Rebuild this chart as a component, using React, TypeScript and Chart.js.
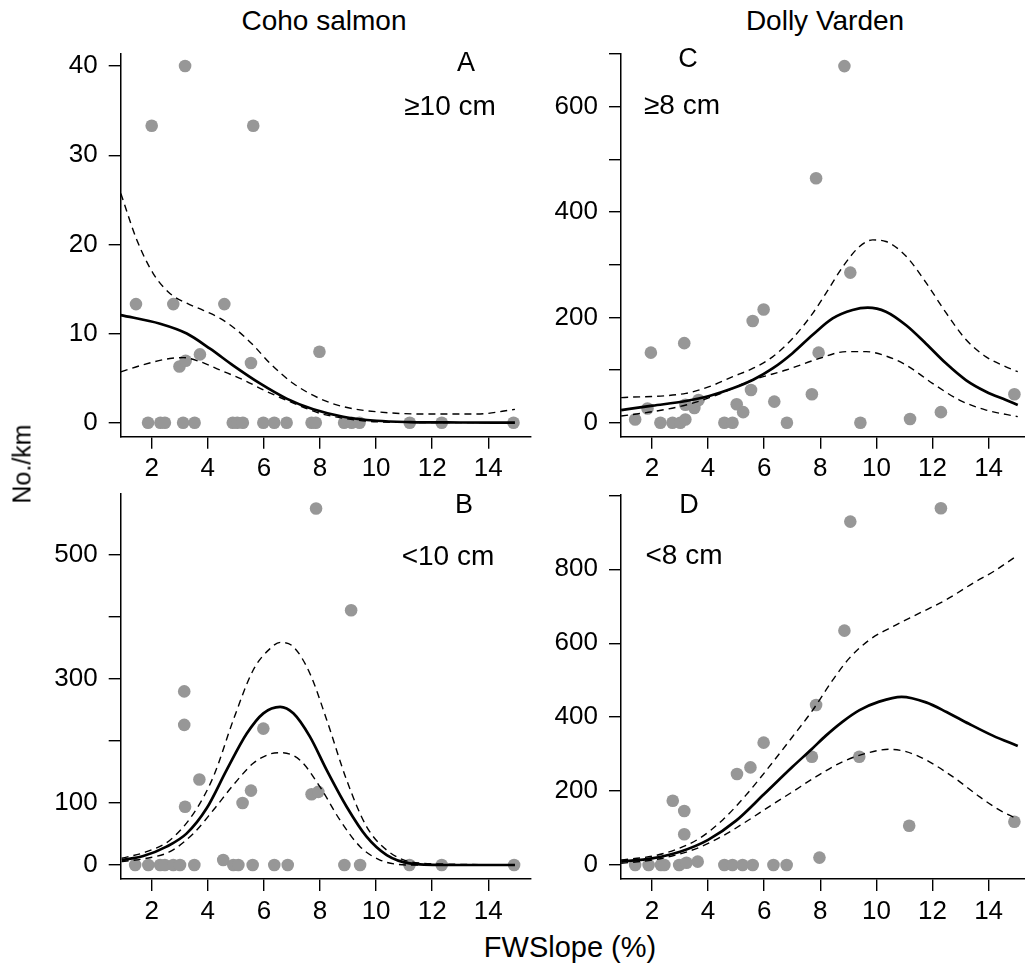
import React, { useEffect, useRef } from "react";
import { Chart, registerables } from "chart.js";

Chart.register(...registerables);

const FONT = "'Liberation Sans', Arial, Helvetica, sans-serif";

// ---------- shared axis ----------
const xTicks = [2, 4, 6, 8, 10, 12, 14];
const X_MIN = 0.895;
const X_MAX = 15.505;

// ---------- Panel A: Coho salmon >=10 cm ----------
const cohoLargeX = [1.44, 2.0, 3.19, 2.77, 2.99, 3.21, 3.72, 4.59, 5.62, 5.54, 7.98, 1.87, 2.31, 2.47, 3.12, 3.53, 4.89, 5.05, 5.25, 5.98, 6.37, 6.81, 7.7, 7.85, 8.86, 9.13, 9.41, 11.2, 12.34, 14.9];
const cohoLargeY = [13.3, 33.3, 40, 13.3, 6.3, 6.95, 7.66, 13.3, 33.3, 6.7, 7.96, 0, 0, 0, 0, 0, 0, 0, 0, 0, 0, 0, 0, 0, 0, 0, 0, 0, 0, 0];
const cohoLargeFitX = [0.9, 2.3, 3.25, 4.08, 4.91, 5.86, 6.81, 7.76, 8.83, 10.02, 11.21, 13.0, 14.95];
const cohoLargeFit = [12.07, 11.1, 10.0, 8.3, 6.4, 4.4, 2.7, 1.5, 0.67, 0.22, 0.07, 0.02, 0.0];
const cohoLargeUpX = [0.9, 1.47, 2.06, 2.65, 3.25, 3.84, 4.44, 5.03, 5.62, 6.22, 7.05, 8.0, 8.83, 10.0, 11.8, 13.6, 14.95];
const cohoLargeUp = [25.7, 20.5, 16.7, 14.5, 13.4, 12.6, 11.7, 10.4, 8.7, 6.65, 4.4, 2.7, 1.8, 1.23, 0.97, 0.97, 1.5];
const cohoLargeLoX = [0.9, 1.7, 2.65, 3.13, 3.72, 4.44, 5.27, 6.1, 7.05, 8.0, 8.83, 10.0, 11.5, 14.95];
const cohoLargeLo = [5.7, 6.5, 7.2, 7.3, 6.85, 5.9, 4.8, 3.5, 2.2, 1.05, 0.5, 0.1, 0.03, 0.0];
const cohoLargeTicks = [0, 10, 20, 30, 40];
const cohoLargeLabels = [0, 10, 20, 30, 40];

// ---------- Panel B: Coho salmon <10 cm ----------
const cohoSmallX = [3.16, 3.16, 3.7, 3.19, 5.98, 5.54, 5.24, 7.7, 7.94, 7.86, 9.11, 4.55, 1.41, 1.88, 2.3, 2.47, 2.77, 3.01, 3.52, 4.91, 5.09, 5.6, 6.37, 6.85, 8.87, 9.43, 11.19, 12.34, 14.92];
const cohoSmallY = [280, 226, 138, 94, 220, 120, 100, 114, 118, 575, 411, 8, 0, 0, 0, 0, 0, 0, 0, 0, 0, 0, 0, 0, 0, 0, 0, 0, 0];
const cohoSmallFitX = [0.93, 1.7, 2.53, 3.25, 3.96, 4.67, 5.39, 5.98, 6.58, 7.05, 7.64, 8.24, 8.95, 9.66, 10.38, 11.2, 12.4, 14.95];
const cohoSmallFit = [8, 14.5, 29.6, 51, 91.4, 153, 212, 244.6, 255, 244.6, 207, 153, 94, 45.7, 16, 2.7, 0, 0];
const cohoSmallUpX = [0.93, 1.82, 2.65, 3.49, 4.2, 4.91, 5.62, 6.22, 6.58, 7.05, 7.64, 8.24, 8.95, 9.66, 10.38, 11.2, 12.4, 14.95];
const cohoSmallUp = [10.8, 21.5, 40, 83, 142.5, 234, 314.5, 349, 359, 352, 309, 234, 137, 62, 24, 5.4, 1.6, 0];
const cohoSmallLoX = [0.93, 1.82, 2.65, 3.49, 4.2, 4.91, 5.62, 6.22, 6.63, 7.29, 8.0, 8.71, 9.43, 10.14, 11.2, 14.95];
const cohoSmallLo = [5.4, 10.8, 21.5, 51, 88.7, 129, 164, 179, 181, 169, 126, 72.6, 29.6, 8, 0, 0];
const cohoSmallTicks = [0, 100, 200, 300, 400, 500];
const cohoSmallLabels = [0, 100, 300, 500];

// ---------- Panel C: Dolly Varden >=8 cm ----------
const dvLargeX = [1.4, 1.84, 2.3, 2.73, 3.01, 3.19, 3.19, 3.51, 3.66, 4.58, 4.87, 5.02, 5.25, 5.53, 6.36, 6.81, 7.7, 9.43, 11.2, 12.3, 14.92, 1.96, 3.15, 5.59, 5.98, 7.85, 7.94, 8.86, 9.07];
const dvLargeY = [6, 27, 0, 0, 0, 6, 34, 28, 43, 0, 0, 35, 20, 62, 40, 0, 54, 0, 7, 20, 54, 133, 151, 193, 215, 464, 133, 677, 285];
const dvLargeFitX = [0.9, 2.02, 3.21, 4.04, 4.88, 5.59, 6.3, 7.01, 7.73, 8.44, 9.15, 9.69, 10.34, 11.06, 11.77, 12.48, 13.19, 13.91, 14.62, 15.04];
const dvLargeFit = [24, 32.3, 41.1, 50.6, 65.2, 81, 103, 132, 167, 198, 214, 218.4, 210.8, 185, 150, 112.7, 81, 58.9, 43, 33.5];
const dvLargeUpX = [0.9, 3.21, 4.04, 4.88, 5.59, 6.3, 7.01, 7.73, 8.2, 8.8, 9.39, 9.87, 10.34, 11.06, 11.77, 12.48, 13.19, 13.91, 14.62, 15.04];
const dvLargeUp = [47.5, 55.7, 68.4, 87.3, 103, 125, 160, 207.6, 245.6, 296, 334, 347, 344, 316, 265.8, 208.9, 158, 125, 106, 96.8];
const dvLargeLoX = [0.9, 2.02, 3.21, 4.4, 5.59, 6.78, 7.97, 8.92, 9.63, 10.34, 11.06, 12.0, 12.96, 13.91, 15.04];
const dvLargeLo = [12.7, 20.9, 33.5, 54.4, 81, 100, 122, 135, 135, 126.6, 109.5, 74.7, 43, 24, 11.4];
const dvLargeTicks = [0, 100, 200, 300, 400, 500, 600, 700];
const dvLargeLabels = [0, 200, 400, 600];

// ---------- Panel D: Dolly Varden <8 cm ----------
const dvSmallX = [2.74, 3.15, 3.15, 5.03, 5.51, 5.98, 7.7, 7.85, 7.97, 8.86, 9.07, 9.39, 11.17, 12.3, 14.92, 1.4, 1.88, 2.32, 2.44, 2.97, 3.23, 3.63, 4.58, 4.87, 5.23, 5.59, 6.33, 6.8];
const dvSmallY = [174, 146, 83, 246, 264, 331, 293, 433, 20, 634, 929, 293, 106, 965, 117, 0, 0, 0, 0, 0, 6, 9, 0, 0, 0, 0, 0, 0];
const dvSmallFitX = [0.9, 2.0, 3.0, 4.0, 5.0, 6.0, 7.0, 7.7, 8.2, 8.8, 9.4, 10.1, 10.9, 11.77, 12.5, 13.3, 14.15, 15.04];
const dvSmallFit = [9, 18, 36, 68, 120, 192, 265, 314, 350, 388, 419, 442, 455, 440, 414, 382, 350, 322];
const dvSmallUpX = [0.9, 2.02, 2.86, 3.69, 4.52, 5.35, 6.18, 7.01, 7.73, 8.44, 9.03, 9.75, 10.58, 11.5, 12.5, 13.5, 14.2, 14.92];
const dvSmallUp = [13.5, 24, 42, 72, 122, 189, 266, 347, 419, 500, 559, 609, 645, 680, 718, 765, 795, 832];
const dvSmallLoX = [0.9, 2.02, 2.86, 3.69, 4.52, 5.35, 6.18, 7.01, 7.85, 8.8, 9.63, 10.46, 11.06, 11.77, 12.72, 13.67, 14.38, 14.98];
const dvSmallLo = [4.5, 13.5, 27, 47.8, 78.5, 117, 158, 198, 239, 279.5, 302, 313, 306.6, 284, 239, 185, 149, 126];
const dvSmallTicks = [0, 200, 400, 600, 800, 1000];
const dvSmallLabels = [0, 200, 400, 600, 800];

type PanelProps = {
  left: number;
  top: number;
  width: number;
  height: number;
  yAxisWidth: number;
  padTop: number;
  padRight: number;
  xAxisHeight: number;
  yMin: number;
  yMax: number;
  yTicks: number[];
  yLabels: number[];
  px: number[];
  py: number[];
  fx: number[];
  fy: number[];
  ux: number[];
  uy: number[];
  lx: number[];
  ly: number[];
};

function toPts(xs: number[], ys: number[]) {
  return xs.map((x, i) => ({ x, y: ys[i] }));
}

function lineDs(xs: number[], ys: number[], dashed: boolean) {
  return {
    data: toPts(xs, ys),
    showLine: true,
    borderColor: "#000",
    borderWidth: dashed ? 1.4 : 2.7,
    borderDash: dashed ? [7, 5] : [],
    pointRadius: 0,
    pointHoverRadius: 0,
    cubicInterpolationMode: "monotone",
    fill: false,
    order: 0,
    clip: false,
  };
}

function Panel(p: PanelProps) {
  const ref = useRef<HTMLCanvasElement>(null);
  useEffect(() => {
    if (!ref.current) return;
    const tickFont = { family: FONT, size: 26 };
    const chart = new Chart(ref.current, {
      type: "scatter",
      data: {
        datasets: [
          lineDs(p.fx, p.fy, false),
          lineDs(p.ux, p.uy, true),
          lineDs(p.lx, p.ly, true),
          {
            data: toPts(p.px, p.py),
            showLine: false,
            pointRadius: 6.3,
            pointHoverRadius: 6.3,
            pointBackgroundColor: "#979797",
            pointBorderWidth: 0,
            pointBorderColor: "#979797",
            order: 10,
            clip: false,
          },
        ] as any,
      },
      options: {
        animation: false,
        responsive: false,
        events: [],
        layout: { padding: { top: p.padTop, right: p.padRight, bottom: 0, left: 0 } },
        plugins: { legend: { display: false }, tooltip: { enabled: false } },
        scales: {
          x: {
            type: "linear",
            min: X_MIN,
            max: X_MAX,
            afterBuildTicks: (s: any) => {
              s.ticks = xTicks.map((v) => ({ value: v }));
            },
            afterFit: (s: any) => {
              s.height = p.xAxisHeight;
              s.paddingLeft = 0;
              s.paddingRight = 0;
            },
            grid: { drawOnChartArea: false, drawTicks: true, tickLength: 12, color: "#000", lineWidth: 1.4 },
            border: { display: true, color: "#000", width: 1.5 },
            ticks: {
              color: "#000",
              font: tickFont,
              padding: 5,
              maxRotation: 0,
              minRotation: 0,
              autoSkip: false,
              callback: (v: any) => String(v),
            },
          },
          y: {
            type: "linear",
            min: p.yMin,
            max: p.yMax,
            afterBuildTicks: (s: any) => {
              s.ticks = p.yTicks.map((v) => ({ value: v }));
            },
            afterFit: (s: any) => {
              s.width = p.yAxisWidth;
              s.paddingTop = 0;
              s.paddingBottom = 0;
            },
            grid: { drawOnChartArea: false, drawTicks: true, tickLength: 12, color: "#000", lineWidth: 1.4 },
            border: { display: true, color: "#000", width: 1.5 },
            ticks: {
              color: "#000",
              font: tickFont,
              padding: 11,
              autoSkip: false,
              callback: (v: any) => (p.yLabels.includes(Number(v)) ? String(v) : ""),
            },
          },
        },
      } as any,
    });
    return () => chart.destroy();
  }, []);
  return (
    <canvas
      ref={ref}
      width={p.width}
      height={p.height}
      style={{ position: "absolute", left: p.left, top: p.top, width: p.width, height: p.height, display: "block" }}
    />
  );
}

function Label(props: { x: number; y: number; size: number; text: string; rotate?: boolean }) {
  return (
    <div
      style={{
        position: "absolute",
        left: props.x,
        top: props.y,
        transform: `translate(-50%, -50%)${props.rotate ? " rotate(-90deg)" : ""}`,
        fontFamily: FONT,
        fontSize: props.size,
        lineHeight: 1,
        whiteSpace: "nowrap",
        color: "#000",
      }}
    >
      {props.text}
    </div>
  );
}

export default function App() {
  return (
    <div
      style={{
        position: "absolute",
        left: 0,
        top: 0,
        width: 1025,
        height: 968,
        overflow: "hidden",
        background: "#fff",
      }}
    >
      <Panel
        left={0} top={40} width={545} height={445}
        yAxisWidth={120.7} padTop={13.3} padRight={14.5} xAxisHeight={48.3}
        yMin={-1.57} yMax={41.43} yTicks={cohoLargeTicks} yLabels={cohoLargeLabels}
        px={cohoLargeX} py={cohoLargeY}
        fx={cohoLargeFitX} fy={cohoLargeFit}
        ux={cohoLargeUpX} uy={cohoLargeUp}
        lx={cohoLargeLoX} ly={cohoLargeLo}
      />
      <Panel
        left={0} top={480} width={545} height={450}
        yAxisWidth={120.7} padTop={14} padRight={14.5} xAxisHeight={51}
        yMin={-22.6} yMax={598.4} yTicks={cohoSmallTicks} yLabels={cohoSmallLabels}
        px={cohoSmallX} py={cohoSmallY}
        fx={cohoSmallFitX} fy={cohoSmallFit}
        ux={cohoSmallUpX} uy={cohoSmallUp}
        lx={cohoSmallLoX} ly={cohoSmallLo}
      />
      <Panel
        left={500} top={40} width={545} height={445}
        yAxisWidth={121} padTop={14} padRight={14.2} xAxisHeight={48.3}
        yMin={-26.6} yMax={700} yTicks={dvLargeTicks} yLabels={dvLargeLabels}
        px={dvLargeX} py={dvLargeY}
        fx={dvLargeFitX} fy={dvLargeFit}
        ux={dvLargeUpX} uy={dvLargeUp}
        lx={dvLargeLoX} ly={dvLargeLo}
      />
      <Panel
        left={500} top={480} width={545} height={450}
        yAxisWidth={121} padTop={15} padRight={14.2} xAxisHeight={51}
        yMin={-37.9} yMax={1001} yTicks={dvSmallTicks} yLabels={dvSmallLabels}
        px={dvSmallX} py={dvSmallY}
        fx={dvSmallFitX} fy={dvSmallFit}
        ux={dvSmallUpX} uy={dvSmallUp}
        lx={dvSmallLoX} ly={dvSmallLo}
      />
      <Label x={324} y={21} size={28} text="Coho salmon" />
      <Label x={825} y={21} size={28} text="Dolly Varden" />
      <Label x={22} y={464} size={25} text="No./km" rotate />
      <Label x={570} y={947} size={29} text="FWSlope (%)" />
      <Label x={466} y={62} size={27} text="A" />
      <Label x={450} y={106} size={28} text="≥10 cm" />
      <Label x={464} y={504} size={27} text="B" />
      <Label x={448} y={556} size={28} text="<10 cm" />
      <Label x={688} y={58} size={27} text="C" />
      <Label x={682} y={105} size={28} text="≥8 cm" />
      <Label x={689} y={504} size={27} text="D" />
      <Label x={684} y={555} size={28} text="<8 cm" />
    </div>
  );
}
